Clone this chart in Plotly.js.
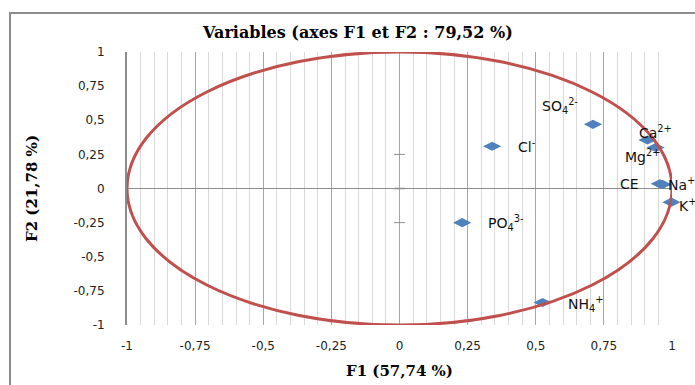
<!DOCTYPE html>
<html><head><meta charset="utf-8">
<script src="https://cdn.plot.ly/plotly-3.0.1.min.js"></script>
<style>html,body{margin:0;padding:0;background:#fff}</style>
</head><body><div id="chart" style="width:695px;height:385px"></div>
<script>
var variables = ["SO4", "Cl", "Ca", "Mg", "CE", "Na", "K", "PO4", "NH4"];
var labels = ["SO<sub>4</sub><sup>2-</sup>", "Cl<sup>-</sup>", "Ca<sup>2+</sup>", "Mg<sup>2+</sup>", "CE", "Na<sup>+</sup>", "K<sup>+</sup>", "PO<sub>4</sub><sup>3-</sup>", "NH<sub>4</sub><sup>+</sup>"];
var f1 = [0.71, 0.34, 0.91, 0.94, 0.955, 0.965, 0.998, 0.23, 0.525];
var f2 = [0.47, 0.31, 0.355, 0.30, 0.035, 0.03, -0.10, -0.25, -0.835];
var tickVals = [-1, -0.75, -0.5, -0.25, 0, 0.25, 0.5, 0.75, 1];
var tickText = ["-1", "-0,75", "-0,5", "-0,25", "0", "0,25", "0,5", "0,75", "1"];

// label offsets (pixels) and anchors - styling only
var labelStyle = [
  {ax:-33, ay:-18, xa:"center"},
  {ax:24, ay:0, xa:"left"},
  {ax:-10, ay:-8, xa:"left"},
  {ax:-33, ay:8, xa:"left"},
  {ax:-42, ay:0, xa:"left"},
  {ax:4, ay:0, xa:"left"},
  {ax:6, ay:3, xa:"left"},
  {ax:24, ay:0, xa:"left"},
  {ax:23, ay:2, xa:"left"}
];

var labelFont = {family:'DejaVu Sans, Verdana, sans-serif', size:14, color:'#111'};
var annotations = labels.map(function(t, i){
  var s = labelStyle[i];
  return {x: f1[i], y: f2[i], xref:'x', yref:'y', text: t, showarrow:false,
    xshift: s.ax, yshift: -s.ay, xanchor: s.xa, yanchor:'middle', font: labelFont};
});

var grey = '#8c8c8c';
var shapes = [
  {type:'circle', xref:'x', yref:'y', x0:-1, y0:-1, x1:1, y1:1, line:{color:'#C0504D', width:3}, layer:'above'},
  {type:'rect', xref:'paper', yref:'paper', x0:-0.2147, x1:1.06, y0:-0.25, y1:1.1429, line:{color:grey, width:2}},
  {type:'line', xref:'x', yref:'y', x0:-0.02, x1:0.02, y0:0.25, y1:0.25, line:{color:grey, width:1}},
  {type:'line', xref:'x', yref:'y', x0:-0.02, x1:0.02, y0:-0.25, y1:-0.25, line:{color:grey, width:1}},
  {type:'line', xref:'x', yref:'y', x0:-0.02, x1:0.02, y0:0, y1:0, line:{color:grey, width:1.5}}
];

var trace = {x: f1, y: f2, text: variables, type:'scatter', mode:'markers',
  marker:{symbol:'diamond-wide', size:13, color:'#4F81BD'}, hoverinfo:'text', cliponaxis:false};

var titleFont = {family:'DejaVu Serif, Liberation Serif, serif', size:16, color:'#000'};
var axTitleFont = {family:'DejaVu Serif, Liberation Serif, serif', size:15, color:'#000'};
var tickFont = {family:'DejaVu Sans, Verdana, sans-serif', size:12, color:'#222'};

var layout = {
  width:695, height:385,
  margin:{l:127, r:23, t:52, b:60},
  paper_bgcolor:'#fff', plot_bgcolor:'#fff',
  showlegend:false,
  title:{text:'<b>Variables (axes F1 et F2 : 79,52 %)</b>', x:0.515, xanchor:'center', y:0.917, yanchor:'middle',
    font: titleFont},
  xaxis:{range:[-1,1], tickvals:tickVals, ticktext:tickText, showgrid:true, gridcolor:'#a6a6a6', gridwidth:1,
    minor:{dtick:0.05, tick0:0, showgrid:true, gridcolor:'#d9d9d9', gridwidth:1, ticks:''},
    zeroline:false, showline:false, ticks:'outside', ticklen:10, tickcolor:'rgba(0,0,0,0)',
    tickfont: tickFont,
    title:{text:'<b>F1 (57,74 %)</b>', standoff:13, font: axTitleFont},
    fixedrange:true},
  yaxis:{range:[-1,1], tickvals:tickVals, ticktext:tickText, showgrid:false,
    zeroline:true, zerolinecolor:grey, zerolinewidth:1.5, showline:true, linecolor:grey, linewidth:2,
    ticks:'outside', ticklen:18, tickcolor:'rgba(0,0,0,0)',
    tickfont: tickFont,
    title:{text:'<b>F2 (21,78 %)</b>', standoff:32, font: axTitleFont},
    fixedrange:true},
  shapes: shapes,
  annotations: annotations
};

Plotly.newPlot('chart', [trace], layout, {displayModeBar:false, staticPlot:true});
</script>
</body></html>
